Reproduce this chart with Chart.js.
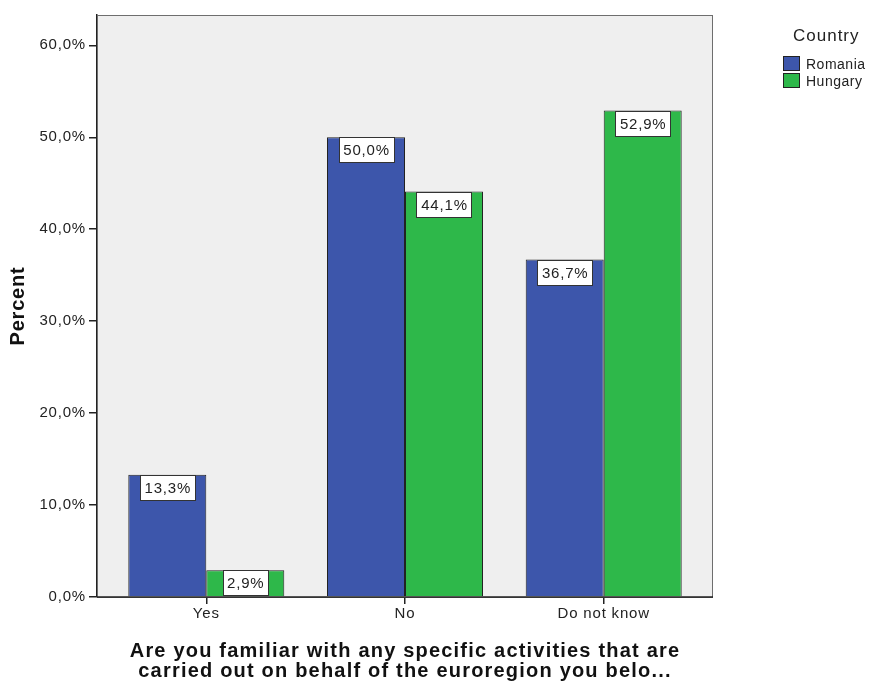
<!DOCTYPE html>
<html>
<head>
<meta charset="utf-8">
<script src="https://cdn.jsdelivr.net/npm/chart.js@4/dist/chart.umd.min.js"></script>
<style>
  html, body { margin: 0; padding: 0; background: #fff; }
  #wrap { position: relative; width: 870px; height: 682px; }
  #legend { position: absolute; left: 783px; top: 26px; font-family: "Liberation Sans", Arial, sans-serif; color: #222; }
  #legend .ttl { font-size: 17px; letter-spacing: 1px; margin-left: 10px; margin-bottom: 9px; line-height: 20px; }
  #legend .item { display: flex; align-items: center; font-size: 14px; letter-spacing: 0.5px; height: 17px; }
  #legend .sw { width: 15px; height: 13px; border: 1px solid #222; margin-right: 6px; }
</style>
</head>
<body>
<div id="wrap">
  <canvas id="c" width="870" height="682"></canvas>
  <div id="legend"></div>
</div>
<script>
// Answer categories and percentages per country
const categories = ["Yes", "No", "Do not know"];
const romania = [13.3, 50.0, 36.7];
const hungary = [2.9, 44.1, 52.9];
const seriesNames = ["Romania", "Hungary"];
const seriesColors = ["#3d56ab", "#2eb84a"];
const yTicks = [0, 10, 20, 30, 40, 50, 60];
const xTitle = ["Are you familiar with any specific activities that are", "carried out on behalf of the euroregion you belo..."];

const FONT = "'Liberation Sans', Arial, sans-serif";

function fmt(v) { return v.toFixed(1).replace(".", ",") + "%"; }

// Slightly spaced lettering for all canvas text
const spacing = {
  id: "spacing",
  beforeDraw(chart) { chart.ctx.letterSpacing = "0.8px"; }
};

// Grey plot background with frame
const plotFrame = {
  id: "plotFrame",
  beforeDatasetsDraw(chart) {
    const { ctx, chartArea: a } = chart;
    ctx.save();
    ctx.fillStyle = "#efefef";
    ctx.fillRect(a.left, a.top, a.right - a.left, a.bottom - a.top);
    ctx.strokeStyle = "#6e6e6e";
    ctx.lineWidth = 1;
    ctx.strokeRect(a.left + 0.5, a.top + 0.5, a.right - a.left - 1, a.bottom - a.top);
    ctx.restore();
  },
  afterDatasetsDraw(chart) {
    const { ctx, chartArea: a } = chart;
    ctx.save();
    ctx.strokeStyle = "#222";
    ctx.lineWidth = 1.5;
    ctx.beginPath();
    ctx.moveTo(a.left, a.bottom);
    ctx.lineTo(a.right, a.bottom);
    ctx.stroke();
    ctx.restore();
  }
};

// White value boxes at the top of each bar
const valueBoxes = {
  id: "valueBoxes",
  afterDatasetsDraw(chart) {
    const { ctx } = chart;
    ctx.save();
    ctx.font = "15px " + FONT;
    ctx.letterSpacing = "0.8px";
    ctx.textAlign = "center";
    ctx.textBaseline = "middle";
    chart.data.datasets.forEach((ds, i) => {
      chart.getDatasetMeta(i).data.forEach((bar, j) => {
        const txt = fmt(ds.data[j].y);
        const w = Math.round(ctx.measureText(txt).width + 8);
        const h = 25;
        const x = Math.round(bar.x - w / 2);
        const y = Math.round(bar.y);
        ctx.fillStyle = "#fff";
        ctx.fillRect(x, y, w, h);
        ctx.strokeStyle = "#333";
        ctx.lineWidth = 1;
        ctx.strokeRect(x + 0.5, y + 0.5, w, h);
        ctx.fillStyle = "#222";
        ctx.fillText(txt, bar.x + 0.5, y + h / 2 + 1);
      });
    });
    ctx.restore();
  }
};

// Two-line bold axis caption under the categories
const xCaption = {
  id: "xCaption",
  afterDraw(chart) {
    const { ctx, chartArea: a } = chart;
    ctx.save();
    ctx.font = "bold 20px " + FONT;
    ctx.letterSpacing = "1.2px";
    ctx.fillStyle = "#111";
    ctx.textAlign = "center";
    ctx.textBaseline = "alphabetic";
    const cx = (a.left + a.right) / 2;
    xTitle.forEach((line, k) => ctx.fillText(line, cx, a.bottom + 60 + k * 20));
    ctx.restore();
  }
};

const toPoints = arr => arr.map((v, i) => ({ x: i, y: v }));

new Chart(document.getElementById("c"), {
  type: "bar",
  data: {
    datasets: [
      { label: seriesNames[0], data: toPoints(romania), backgroundColor: seriesColors[0], borderColor: "#222", borderWidth: 1 },
      { label: seriesNames[1], data: toPoints(hungary), backgroundColor: seriesColors[1], borderColor: "#222", borderWidth: 1 }
    ]
  },
  options: {
    responsive: false,
    animation: false,
    barPercentage: 1,
    categoryPercentage: 0.785,
    layout: { padding: { top: 15, right: 157, left: 6, bottom: 0 } },
    plugins: { legend: { display: false }, tooltip: { enabled: false } },
    scales: {
      x: {
        type: "linear",
        offset: false,
        min: -0.55,
        max: 2.55,
        afterBuildTicks: s => { s.ticks = categories.map((c, i) => ({ value: i })); },
        afterFit: s => { s.height = 85; },
        ticks: {
          callback: v => categories[v],
          color: "#222",
          font: { family: FONT, size: 15 },
          padding: 1,
          maxRotation: 0,
          autoSkip: false
        },
        grid: { offset: false, drawOnChartArea: false, drawTicks: true, tickLength: 7, color: "#222", lineWidth: 1.5 },
        border: { display: false }
      },
      y: {
        min: 0,
        max: 63.3,
        afterBuildTicks: s => { s.ticks = yTicks.map(v => ({ value: v })); },
        afterFit: s => { s.width = 91; },
        ticks: {
          callback: v => fmt(v),
          color: "#222",
          font: { family: FONT, size: 15 },
          padding: 3
        },
        grid: { drawOnChartArea: false, drawTicks: true, tickLength: 8, color: "#222", lineWidth: 1.5 },
        border: { display: true, color: "#222", width: 1.5 },
        title: {
          display: true,
          text: "Percent",
          color: "#111",
          font: { family: FONT, size: 20, weight: "bold" },
          padding: { top: 0, bottom: 0 }
        }
      }
    }
  },
  plugins: [spacing, plotFrame, valueBoxes, xCaption]
});

// Legend
const lg = document.getElementById("legend");
const t = document.createElement("div");
t.className = "ttl";
t.textContent = "Country";
lg.appendChild(t);
seriesNames.forEach((n, i) => {
  const it = document.createElement("div");
  it.className = "item";
  const sw = document.createElement("span");
  sw.className = "sw";
  sw.style.background = seriesColors[i];
  const tx = document.createElement("span");
  tx.textContent = n;
  it.appendChild(sw);
  it.appendChild(tx);
  lg.appendChild(it);
});
</script>
</body>
</html>
